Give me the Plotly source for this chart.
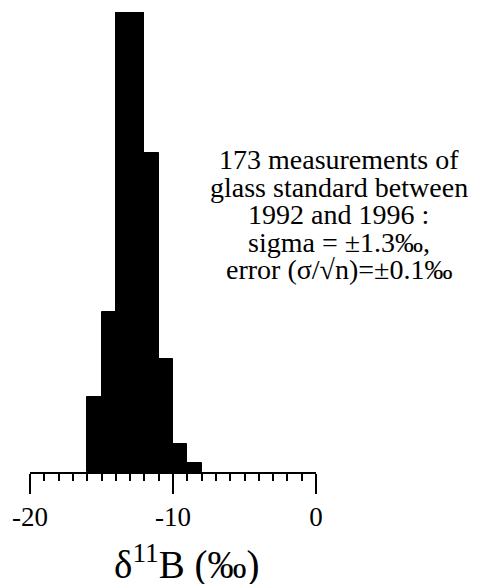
import plotly.graph_objects as go

# Histogram of delta-11B values (1 per-mil bins)
bin_left = [-16, -15, -14, -13, -12, -11, -10, -9]
counts = [8, 17, 49, 49, 34, 12, 3, 1]

label_ticks = [-20, -10, 0]
label_text = ["-20", "-10", "0"]
unlabelled_major_ticks = [-15, -5]

note_lines = [
    "173 measurements of",
    "glass standard between",
    "1992 and 1996 :",
    "sigma = ±1.3‰,",
    "error (σ/√n)=±0.1‰",
]
axis_title = "δ<sup>11</sup>B (‰)"

W, H = 477, 584
ML, MR, MT, MB = 26, 161, 12, 112
PW, PH = W - ML - MR, H - MT - MB
SERIF = "'Times New Roman', Tinos, 'Liberation Serif', serif"


def px_x(x):
    return (x - ML) / PW


def px_y(y):
    return (H - MB - y) / PH


fig = go.Figure(
    go.Bar(
        x=[b + 0.5 for b in bin_left],
        y=counts,
        width=1,
        marker=dict(color="black", line=dict(color="black", width=1)),
        hoverinfo="skip",
    )
)

annotations = []
line_y = [159.5, 187, 214.5, 242, 269.5]
for text, y in zip(note_lines, line_y):
    annotations.append(dict(
        text=text, xref="paper", yref="paper", x=px_x(339), y=px_y(y),
        xanchor="center", yanchor="middle", showarrow=False,
        font=dict(family=SERIF, size=28, color="black"),
    ))
annotations.append(dict(
    text=axis_title, xref="paper", yref="paper", x=px_x(185), y=px_y(562),
    xanchor="center", yanchor="middle", showarrow=False,
    font=dict(family=SERIF, size=39, color="black"),
))

tick_style = dict(ticks="outside", tickwidth=2, tickcolor="black")

fig.update_layout(
    width=W, height=H, autosize=False,
    margin=dict(l=ML, r=MR, t=MT, b=MB, pad=0),
    paper_bgcolor="white", plot_bgcolor="white",
    bargap=0, showlegend=False,
    xaxis=dict(
        range=[-20, 0], showgrid=False, zeroline=False,
        showline=True, linecolor="black", linewidth=2,
        ticklen=20, **tick_style,
        tickvals=label_ticks, ticktext=label_text,
        tickfont=dict(family=SERIF, size=27, color="black"),
        minor=dict(ticklen=7, dtick=1, **tick_style),
    ),
    xaxis2=dict(
        range=[-20, 0], overlaying="x", anchor="y", side="bottom",
        showgrid=False, zeroline=False, showline=False,
        ticklen=20, **tick_style,
        tickvals=unlabelled_major_ticks, showticklabels=False,
    ),
    yaxis=dict(visible=False, range=[0, 49], fixedrange=True),
    annotations=annotations,
)

fig.write_html("out.html")
